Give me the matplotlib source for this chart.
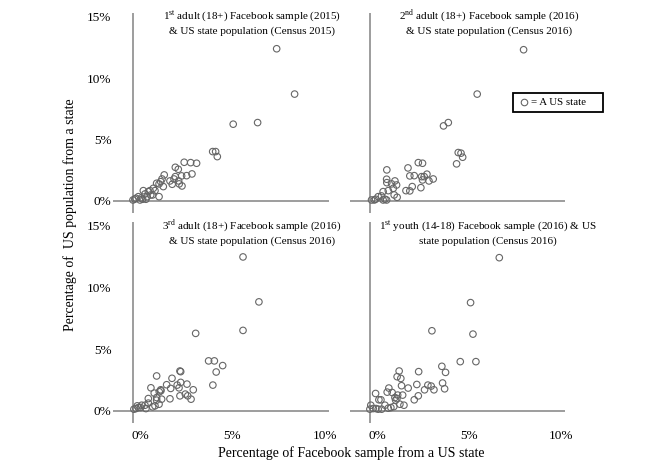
import numpy as np
import matplotlib.pyplot as plt
from matplotlib.patches import Rectangle
from matplotlib.lines import Line2D
from matplotlib.transforms import ScaledTranslation

plt.rcParams['font.family'] = ['Liberation Serif', 'DejaVu Serif']
plt.rcParams['mathtext.fontset'] = 'custom'
plt.rcParams['mathtext.rm'] = 'Liberation Serif'

# data: % of Facebook sample (x) vs % of US population (y), one point per state
x1 = [7.77, 8.74, 5.42, 6.74, 4.31, 4.47, 4.56, 2.77, 3.12, 3.44, 2.29, 2.45, 1.69, 3.19, 2.90, 2.63,
      2.29, 2.22, 1.57, 1.50, 2.00, 2.12, 2.47, 2.50, 2.65, 1.28, 1.41, 1.64, 1.10, 1.19, 0.92, 0.83,
      0.56, 0.65, 1.06, 1.41, 0.29, 0.16, 0.00, 0.38, 0.52, 0.70, 0.77, 0.96, 0.10, 0.45]
y1 = [12.39, 8.70, 6.25, 6.38, 4.02, 4.02, 3.61, 3.15, 3.12, 3.07, 2.74, 2.58, 2.12, 2.20, 2.06, 2.04,
      1.98, 1.79, 1.79, 1.57, 1.63, 1.36, 1.63, 1.39, 1.22, 1.44, 1.39, 1.17, 1.03, 0.84, 0.84, 0.76,
      0.84, 0.57, 0.49, 0.35, 0.35, 0.22, 0.08, 0.08, 0.14, 0.14, 0.35, 0.49, 0.15, 0.25]

x2 = [8.35, 5.83, 4.00, 4.26, 4.80, 4.95, 5.04, 4.71, 2.63, 2.86, 2.07, 0.92, 2.17, 2.41, 3.10, 2.81,
      2.95, 3.44, 3.21, 2.86, 0.91, 0.92, 1.36, 1.45, 1.18, 2.30, 1.96, 2.17, 2.77, 1.27, 1.00, 0.72,
      1.32, 1.48, 0.45, 0.63, 0.82, 0.91, 0.72, 0.09, 0.24, 0.31]
y2 = [12.31, 8.70, 6.11, 6.38, 3.94, 3.89, 3.56, 3.02, 3.12, 3.07, 2.69, 2.53, 2.04, 2.06, 2.18, 1.98,
      1.98, 1.79, 1.63, 1.71, 1.77, 1.49, 1.63, 1.30, 1.39, 1.17, 0.84, 0.82, 1.08, 1.03, 0.84, 0.76,
      0.49, 0.30, 0.35, 0.41, 0.14, 0.08, 0.08, 0.08, 0.08, 0.14]

x3 = [5.95, 6.81, 5.95, 3.39, 4.09, 4.40, 4.85, 4.50, 4.32, 2.54, 2.58, 1.28, 2.11, 1.82, 2.39, 2.58,
      2.92, 0.97, 1.50, 2.04, 2.49, 3.26, 1.15, 1.42, 1.51, 2.54, 2.83, 2.96, 1.28, 1.55, 2.00, 3.14,
      0.83, 1.28, 1.41, 1.19, 1.06, 0.83, 0.65, 0.70, 0.47, 0.29, 0.16, 0.05, 0.23, 0.41]
y3 = [12.47, 8.83, 6.52, 6.28, 4.05, 4.05, 3.67, 3.15, 2.09, 3.23, 3.18, 2.83, 2.64, 2.12, 2.09, 2.31,
      2.17, 1.87, 1.71, 1.82, 1.87, 1.71, 1.44, 1.55, 1.63, 1.22, 1.36, 1.22, 1.08, 0.95, 0.98, 0.95,
      1.00, 0.87, 0.54, 0.41, 0.33, 0.63, 0.46, 0.19, 0.46, 0.27, 0.19, 0.14, 0.41, 0.27]

x4 = [7.03, 5.47, 5.60, 3.37, 4.91, 5.76, 3.91, 4.11, 2.65, 1.59, 1.48, 1.68, 3.95, 4.06, 2.55, 3.15,
      3.33, 3.48, 2.97, 2.08, 1.72, 1.03, 0.94, 1.21, 1.51, 0.31, 1.36, 1.47, 1.40, 1.78, 2.63, 2.41,
      0.49, 0.60, 1.63, 1.85, 1.30, 1.14, 1.00, 0.82, 0.05, 0.00, 0.18, 0.33, 0.45, 0.64]
y4 = [12.41, 8.77, 6.22, 6.49, 3.99, 3.99, 3.61, 3.12, 3.18, 3.23, 2.77, 2.63, 2.26, 1.79, 2.14, 2.09,
      2.01, 1.71, 1.71, 1.85, 2.04, 1.85, 1.52, 1.49, 1.28, 1.41, 1.08, 1.00, 0.87, 1.28, 1.22, 0.90,
      0.90, 0.90, 0.54, 0.46, 0.35, 0.27, 0.22, 0.46, 0.46, 0.14, 0.19, 0.19, 0.14, 0.14]

titles = ["1$^{\\rm st}$ adult (18+) Facebook sample (2015)\n& US state population (Census 2015)",
          "2$^{\\rm nd}$ adult (18+) Facebook sample (2016)\n& US state population (Census 2016)",
          "3$^{\\rm rd}$ adult (18+) Facebook sample (2016)\n& US state population (Census 2016)",
          "1$^{\\rm st}$ youth (14-18) Facebook sample (2016) & US\nstate population (Census 2016)"]
x_ticks = [0, 5, 10]
y_ticks = [0, 5, 10, 15]

W, H = 666, 465
fig = plt.figure(figsize=(W / 100, H / 100), dpi=100)


def px_box(left, top, right, bottom):
    return [left / W, 1 - bottom / H, (right - left) / W, (bottom - top) / H]


axis_col = '#8c8c8c'
boxes = [px_box(113, 13, 329, 213), px_box(350, 13, 565, 213),
         px_box(113, 222, 329, 423), px_box(350, 222, 565, 423)]
title_pos = [(252, 22), (489, 22), (252, 232), (488, 232)]
data = [(x1, y1), (x2, y2), (x3, y3), (x4, y4)]

for i, (box, (xs, ys)) in enumerate(zip(boxes, data)):
    ax = fig.add_axes(box)
    ax.set_xlim(-1.08, 10.6)
    ax.set_ylim(-0.98, 15.3)
    for s in ax.spines.values():
        s.set_visible(False)
    ax.axhline(0, color=axis_col, lw=1.2, zorder=1)
    ax.axvline(0, color=axis_col, lw=1.2, zorder=1)
    ax.scatter(xs, ys, s=22, facecolors='none', edgecolors='#666666', linewidths=0.8, zorder=3)
    ax.tick_params(length=0, labelsize=9.5)
    ax.set_yticks(y_ticks)
    ax.set_xticks(x_ticks)
    if i % 2 == 0:
        ax.set_yticklabels([f'{t}%' for t in y_ticks])
        ax.tick_params(axis='y', pad=1)
    else:
        ax.set_yticklabels([])
    if i >= 2:
        ax.set_xticklabels([f'{t}%' for t in x_ticks])
        ax.tick_params(axis='x', pad=5)
        off = ScaledTranslation(7 / 100, 0, fig.dpi_scale_trans)
        for lab in ax.get_xticklabels():
            lab.set_transform(lab.get_transform() + off)
    else:
        ax.set_xticklabels([])
    tx, ty = title_pos[i]
    fig.text(tx / W, 1 - ty / H, titles[i], ha='center', va='center', fontsize=8, linespacing=1.3)

fig.text(70 / W, 1 - 215 / H, 'Percentage of  US population from a state', rotation=90,
         ha='center', va='center', fontsize=10)
fig.text(351 / W, 1 - 453 / H, 'Percentage of Facebook sample from a US state',
         ha='center', va='center', fontsize=10)

# legend box
fig.add_artist(Rectangle((513 / W, 1 - 112 / H), 90 / W, 19 / H, transform=fig.transFigure,
                         facecolor='white', edgecolor='black', lw=1.3))
fig.add_artist(Line2D([524 / W], [1 - 102.5 / H], marker='o', markersize=4.7, mfc='none',
                      mec='#666666', mew=0.8, transform=fig.transFigure))
fig.text(531 / W, 1 - 102.5 / H, '= A US state', ha='left', va='center', fontsize=7.8)

fig.savefig('out.png', dpi=100)
